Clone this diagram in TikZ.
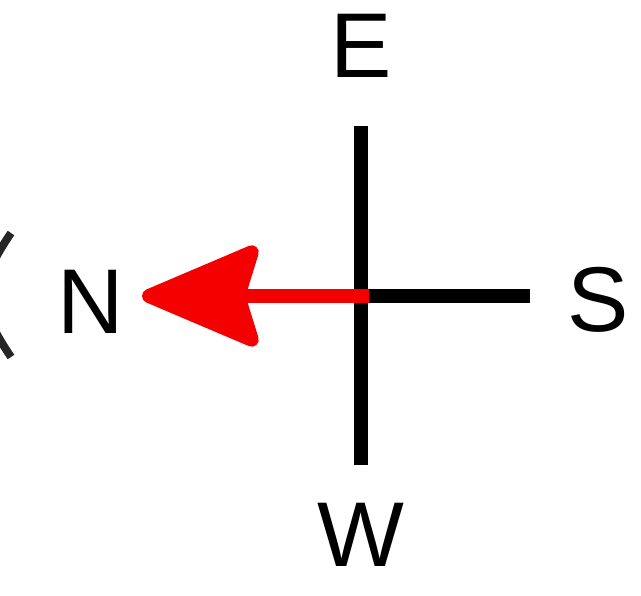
\documentclass[tikz,border=0pt]{standalone}
\usepackage{fontspec}
\setmainfont{Liberation Sans}
\usetikzlibrary{arrows.meta}

\tikzset{
  letter/.style={inner sep=0pt, font=\fontsize{69}{69}\selectfont},
  axis/.style={line width=10.5pt, black},
  pointer/.style={line width=10.5pt, color={rgb,255:red,245;green,0;blue,0},
    -{Stealth[length=98pt, width=82pt, inset=12pt, round]}},
}

\begin{document}
\begin{tikzpicture}[x=0.75pt,y=0.75pt,yscale=-1,xscale=1]
	\useasboundingbox (0,0) rectangle (641,595);
	% cut-off piece at the left edge
	\draw [line width=6pt, color=black!85] (11,233) .. controls (-24,285) and (-24,305) .. (11,357) ;
	% axes
	\coordinate (c) at (361,296);
	\coordinate (top) at (361,126);
	\coordinate (bot) at (361,465);
	\coordinate (rgt) at (530,296);
	\coordinate (tip) at (142,296);
	\coordinate (start) at (369,296);
	\draw [axis] (top) -- (bot) ;
	\draw [axis] (c) -- (rgt) ;
	\draw [pointer] (start) -- (tip) ;
	% labels
	\draw (361,46) node [letter] (e) {E};
	\draw (91,302) node [letter] (n) {N};
	\draw (598,300) node [letter] (s) {S};
	\draw (361,535) node [letter] (w) {W};
\end{tikzpicture}
\end{document}
